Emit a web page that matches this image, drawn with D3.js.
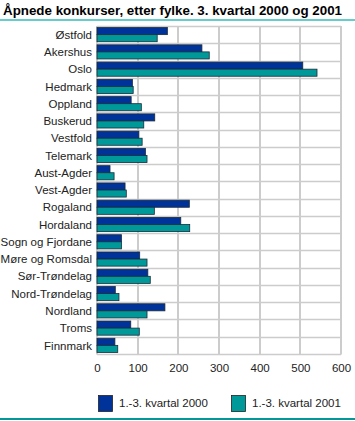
<!DOCTYPE html>
<html><head><meta charset="utf-8">
<script src="https://cdn.jsdelivr.net/npm/d3@7"></script>
<style>body{margin:0;background:#fff}svg{display:block}</style>
</head><body>
<svg id="c" width="355" height="421"></svg>
<script>
const categories = ["Østfold","Akershus","Oslo","Hedmark","Oppland","Buskerud","Vestfold","Telemark","Aust-Agder","Vest-Agder","Rogaland","Hordaland","Sogn og Fjordane","Møre og Romsdal","Sør-Trøndelag","Nord-Trøndelag","Nordland","Troms","Finnmark"];
const values2000 = [173,258,506,87,84,142,103,119,32,69,227,206,60,105,125,45,167,83,44];
const values2001 = [148,276,541,89,109,115,111,123,42,72,141,228,60,123,131,54,123,104,51];
const seriesNames = ["1.-3. kvartal 2000","1.-3. kvartal 2001"];
const xTicks = [0,100,200,300,400,500,600];
const title = "Åpnede konkurser, etter fylke. 3. kvartal 2000 og 2001";
const colors = ["#003399","#009999"];

const svg = d3.select("#c");
const font = "'Liberation Sans', Arial, sans-serif";
const m = {left:97, right:341, top:26, bottom:354};

svg.append("text").attr("x",3).attr("y",15).text(title)
  .attr("font-family",font).attr("font-size",13.5).attr("font-weight","bold").attr("fill","#000")
  .attr("textLength",339).attr("lengthAdjust","spacingAndGlyphs");
svg.append("rect").attr("x",0).attr("y",19).attr("width",355).attr("height",2).attr("fill","#66cccc");
svg.append("rect").attr("x",0).attr("y",418).attr("width",355).attr("height",2).attr("fill","#009999");

const x = d3.scaleLinear().domain([0,600]).range([m.left,m.right]);
const y = d3.scaleBand().domain(categories).range([m.top,m.bottom]).paddingInner(0).paddingOuter(0);
const inner = d3.scaleBand().domain([0,1]).range([0,y.bandwidth()]).paddingOuter(0.22).paddingInner(0);

const g = svg.append("g");
const bounds = categories.map(c=>y(c)).concat([m.bottom]);
g.selectAll("line.h").data(bounds).join("line")
  .attr("x1",m.left).attr("x2",m.right).attr("y1",d=>Math.round(d)+0.5).attr("y2",d=>Math.round(d)+0.5)
  .attr("stroke","#cccccc").attr("stroke-width",1.3);
g.selectAll("line.v").data(xTicks).join("line")
  .attr("x1",d=>Math.round(x(d))).attr("x2",d=>Math.round(x(d))).attr("y1",m.top).attr("y2",m.bottom+0.5)
  .attr("stroke","#cccccc").attr("stroke-width",2);

const series = [values2000, values2001];
series.forEach((vals,si)=>{
  g.selectAll("rect.s"+si).data(categories).join("rect")
    .attr("x",x(0)).attr("y",(c,i)=>y(c)+inner(si))
    .attr("width",(c,i)=>x(vals[i])-x(0)).attr("height",inner.bandwidth())
    .attr("fill",colors[si]).attr("stroke","#1a2a3a").attr("stroke-width",0.8);
});

svg.append("g").selectAll("text").data(categories).join("text")
  .attr("x",92).attr("y",c=>y(c)+y.bandwidth()/2).attr("dy","0.36em")
  .attr("text-anchor","end").attr("font-family",font).attr("font-size",11.5).attr("fill","#222").text(d=>d);

const ax = svg.append("g").attr("transform",`translate(0,${m.bottom})`)
  .call(d3.axisBottom(x).tickValues(xTicks).tickSize(0).tickPadding(10).tickFormat(d3.format("d")));
ax.select(".domain").remove();
ax.selectAll("text").attr("font-family",font).attr("font-size",11.5).attr("fill","#222");

const lg = svg.append("g");
const lx = [98,231];
seriesNames.forEach((n,i)=>{
  lg.append("rect").attr("x",lx[i]+0.5).attr("y",395.5).attr("width",14).attr("height",16)
    .attr("fill",colors[i]).attr("stroke","#222").attr("stroke-width",0.8);
  lg.append("text").attr("x",lx[i]+21).attr("y",403).attr("dy","0.36em")
    .attr("font-family",font).attr("font-size",11.5).attr("fill","#222").text(n);
});
</script>
</body></html>
